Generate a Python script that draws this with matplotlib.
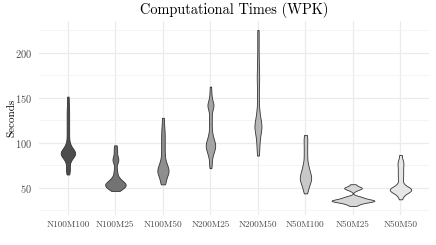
import matplotlib
matplotlib.use("Agg")
import matplotlib.pyplot as plt
import numpy as np

# runs per configuration (seconds)
groups = ["N100M100", "N100M25", "N100M50", "N200M25", "N200M50", "N50M100", "N50M25", "N50M50"]

n100m100 = [65, 68, 70.5, 73, 76.5,
            80, 82, 83.5, 84.5, 85.5, 86.5, 87, 87.5, 88, 88.5, 89, 89.5, 90, 91, 91.5,
            92.5, 93.5, 95, 97, 99,
            103, 107.5, 112, 116.5, 121, 125.5, 130, 134.5, 139, 145, 151.5]
n100m25 = [46.7, 47.5, 48.5, 49.3, 50, 50.6, 51.2, 51.7, 52.2, 52.7, 53.1, 53.5, 53.9, 54.3,
           54.8, 55.3, 55.8, 56.4, 57, 57.8, 58.7, 59.8, 61, 62.5,
           65.5, 68.5, 71.5,
           77, 79.5, 81, 82.5, 84,
           87.5, 91, 94, 97.4]
n100m50 = [54, 55.5, 57, 60, 62, 63.5, 65, 66, 67, 68, 69, 70, 71, 72, 73, 74.5, 76, 77.5,
           79.5, 82,
           85, 88.5, 92, 95.5, 99, 102.5, 106, 109.5, 113, 117, 122, 128]
n200m25 = [72, 76, 80,
           84, 86.5, 88.5, 90, 91.5, 93, 94, 95, 96, 97, 98, 99, 100, 101, 102.5, 104, 105.5,
           107.5, 110, 113,
           117, 121, 125, 129, 133,
           137, 139.5, 141, 142, 143, 144.5, 147,
           151, 156, 162.6]
n200m50 = [86, 91, 96,
           100, 104, 107, 110, 112, 114, 116, 117.5, 119, 120.5, 122, 124, 126.5, 129, 132, 136,
           141, 148, 155, 162, 168, 173, 178, 184, 191, 199, 208, 217, 225.6]
n50m100 = [44, 46.5, 49, 51, 53, 54.5, 56, 57, 58, 59, 60, 61, 62, 63, 64, 65, 66, 67.5,
           69, 70.5, 72, 74, 76, 78.5,
           82, 85.5, 89, 92.5, 96, 99.5, 103, 106, 109]
n50m25 = [30.0, 31.5, 32.5, 33.2, 33.8, 34.3, 34.7, 35.0, 35.3, 35.5, 35.7, 35.9, 36.1,
          36.4, 36.7, 37.0, 37.4, 37.9, 38.4, 39.0, 39.6, 40.3, 41.0,
          47.0, 48.5, 49.3, 49.8, 50.3, 51.0, 52.2, 54.2]
n50m50 = [37.4, 41.5, 44, 45.3, 46.2, 46.9, 47.4, 47.8, 48.2, 48.6, 49.1, 49.7, 50.5, 51.8,
          54, 58, 61, 64, 67, 70, 73, 76, 78.5, 81, 86.7]

samples = [n100m100, n100m25, n100m50, n200m25, n200m50, n50m100, n50m25, n50m50]

# kernel bandwidth per violin
bws = [4.0, 3.0, 4.0, 4.0, 5.0, 4.0, 1.3, 3.0]


def grey_levels(n, start=0.3, end=0.9, gamma=2.2):
    v = np.linspace(start ** gamma, end ** gamma, n) ** (1 / gamma)
    return [(g, g, g) for g in v]


def kde(vals, h, npts=512):
    vals = np.asarray(vals, dtype=float)
    y = np.linspace(vals.min(), vals.max(), npts)
    z = (y[:, None] - vals[None, :]) / h
    d = np.exp(-0.5 * z ** 2).sum(axis=1) / (len(vals) * h * np.sqrt(2 * np.pi))
    return y, d


plt.rcParams["font.family"] = "cmr10"
plt.rcParams["axes.formatter.use_mathtext"] = True

fig = plt.figure(figsize=(4.36, 2.45), dpi=100)
W, H = 436, 245
x0, x1, y0, y1 = 39.4, 429, 21.2, 214.8
ax = fig.add_axes([x0 / W, 1 - y1 / H, (x1 - x0) / W, (y1 - y0) / H])

dens = [kde(s, h) for s, h in zip(samples, bws)]
dmax = max(d.max() for _, d in dens)
fills = grey_levels(len(groups))

for i, ((y, d), c) in enumerate(zip(dens, fills)):
    w = 0.45 * d / dmax
    ax.fill_betweenx(y, i + 1 - w, i + 1 + w, facecolor=c, edgecolor="#333333",
                     linewidth=0.6, zorder=3)

ax.set_xlim(0.4, len(groups) + 0.6)
ax.set_ylim(20.2, 235.3)
ax.set_xticks(range(1, len(groups) + 1))
ax.set_xticklabels(groups)
ax.set_yticks([50, 100, 150, 200])
ax.set_yticks([25, 75, 125, 175, 225], minor=True)

for s in ax.spines.values():
    s.set_visible(False)
ax.grid(which="major", color="#ebebeb", linewidth=0.9, zorder=0)
ax.grid(which="minor", axis="y", color="#f3f3f3", linewidth=0.6, zorder=0)
ax.tick_params(which="both", length=0)
ax.tick_params(axis="x", labelsize=6.7, colors="#4d4d4d", pad=4)
ax.tick_params(axis="y", labelsize=7.5, colors="#4d4d4d", pad=5)

fig.text((x0 + x1) / 2 / W, 1 - 10 / H, "Computational Times (WPK)", ha="center",
         va="center", fontsize=10.4)
fig.text(12 / W, 1 - (y0 + y1) / 2 / H, "Seconds", rotation=90, ha="center",
         va="center", fontsize=8)

fig.savefig("out.png", dpi=100)
